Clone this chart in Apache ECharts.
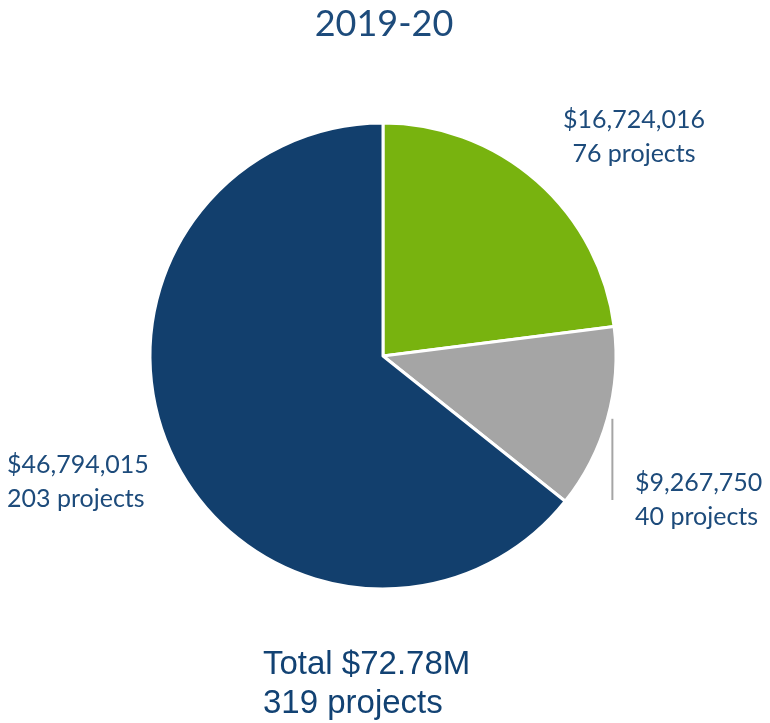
<!DOCTYPE html>
<html><head><meta charset="utf-8">
<script src="https://cdn.jsdelivr.net/npm/echarts@6/dist/echarts.min.js"></script>
<style>html,body{margin:0;padding:0;background:#fff}#c{width:770px;height:723px}</style>
</head><body><div id="c"></div>
<script>
const title = '2019-20';
const categories = ['Green', 'Grey', 'Navy'];
const amounts = [16724016, 9267750, 46794015];
const projects = [76, 40, 203];
const totalText = ['Total $72.78M', '319 projects'];
const colors = ['#78b30f', '#a5a5a5', '#123f6d'];

const textColor = '#1d4b7b';
const fmt = n => '$' + n.toLocaleString('en-US');

const chart = echarts.init(document.getElementById('c'));
const labelSpots = [
  {x: 634, y: 137, align: 'center'},
  {x: 635, y: 500, align: 'left'},
  {x: 7, y: 482, align: 'left'}
];
chart.setOption({
  animation: false,
  title: {
    text: title, left: 379, top: 1, textAlign: 'center',
    textStyle: {fontFamily: 'Lato', fontSize: 36, fontWeight: 'normal', color: textColor}
  },
  graphic: [{
    id: 'total', type: 'text', left: 263, top: 645,
    style: {text: totalText.join('\n'), fontFamily: 'Liberation Sans', fontSize: 33, fill: '#124273', lineHeight: 39}
  }],
  series: [{
    type: 'pie',
    center: [383, 356],
    radius: [0, 233],
    startAngle: 90,
    clockwise: true,
    data: categories.map((c, i) => ({name: c, value: amounts[i], itemStyle: {color: colors[i]}})),
    itemStyle: {borderColor: '#fff', borderWidth: 3},
    label: {
      show: true, position: 'outside', overflow: 'none', width: 200,
      formatter: p => fmt(p.value) + '\n' + projects[p.dataIndex] + ' projects',
      fontFamily: 'Lato', fontSize: 25, color: textColor, lineHeight: 34
    },
    labelLine: {show: false},
    labelLayout: p => {
      const s = labelSpots[p.dataIndex];
      return {x: s.x, y: s.y, align: s.align, verticalAlign: 'middle'};
    }
  }]
});
// vertical leader line for the grey slice, anchored at its mid-angle on the rim
const lay = chart.getModel().getSeriesByIndex(0).getData().getItemLayout(1);
const mid = (lay.startAngle + lay.endAngle) / 2;
const ax = lay.cx + lay.r * Math.cos(mid) + 5;
const ay = lay.cy + lay.r * Math.sin(mid);
chart.setOption({graphic: [{
  id: 'leader', type: 'line', shape: {x1: ax, y1: ay, x2: ax, y2: labelSpots[1].y},
  style: {stroke: '#a5a5a5', lineWidth: 2}
}]});
</script></body></html>
